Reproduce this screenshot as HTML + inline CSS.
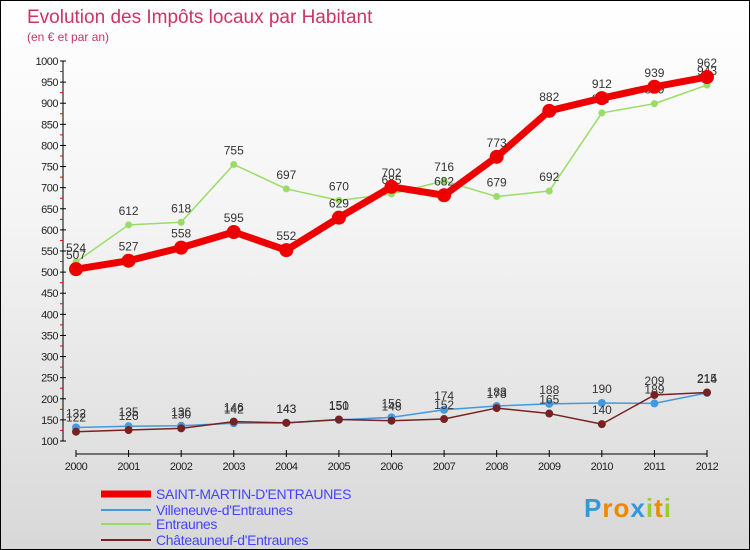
<!DOCTYPE html>
<html><head><meta charset="utf-8"><style>
body{margin:0;padding:0;}
#wrap{position:relative;width:748px;height:548px;border:1px solid #000;background:linear-gradient(#ffffff 0%,#f4f4f4 40%,#d8d8d8 100%);overflow:hidden;font-family:"Liberation Sans",sans-serif;}
svg{position:absolute;left:0;top:0;}
</style></head><body>
<div id="wrap">
<svg id="chart" width="750" height="550"></svg>
</div>
<script>
const years=[2000,2001,2002,2003,2004,2005,2006,2007,2008,2009,2010,2011,2012];
const mainVals=[507,527,558,595,552,629,702,682,773,882,912,939,962];
const entraunesVals=[524,612,618,755,697,670,685,716,679,692,877,899,943];
const villeneuveVals=[132,135,136,142,143,150,156,174,183,188,190,189,214];
const chateauVals=[122,126,130,146,143,151,148,152,178,165,140,209,215];
const yTicks=[100,150,200,250,300,350,400,450,500,550,600,650,700,750,800,850,900,950,1000];
const NS="http://www.w3.org/2000/svg";
const svg=document.getElementById('chart');
const X=i=>75+i*(706-75)/(years.length-1);
const Y=v=>440-(v-100)*(380/900);
function mk(t,a,p){const e=document.createElementNS(NS,t);for(const k in a)e.setAttribute(k,a[k]);(p||svg).appendChild(e);return e;}
// titles
let t=mk('text',{x:26,y:22,'font-size':19,fill:'#cc3366'});t.textContent='Evolution des Impôts locaux par Habitant';


t=mk('text',{x:26,y:40,'font-size':12,fill:'#cc3366'});t.textContent='(en € et par an)';


// y axis
let ax=mk('line',{x1:62,y1:60,x2:62,y2:440,stroke:'#000','stroke-width':1});


yTicks.forEach(v=>{
  mk('line',{x1:59,y1:Y(v),x2:65,y2:Y(v),stroke:'#000'});
  if(v<1000) mk('line',{x1:59,y1:Y(v+25),x2:62,y2:Y(v+25),stroke:'#e00'});
  const l=mk('text',{x:57,y:Y(v)+4,'font-size':11,'text-anchor':'end',fill:'#222','letter-spacing':'-0.5'});
  l.textContent=v;
  
  
});
// x axis
ax=mk('line',{x1:75,y1:453,x2:706,y2:453,stroke:'#000','stroke-width':1});


years.forEach((y,i)=>{
  mk('line',{x1:X(i),y1:449,x2:X(i),y2:456,stroke:'#000'});
  const l=mk('text',{x:X(i),y:469,'font-size':11,'text-anchor':'middle',fill:'#222','letter-spacing':'-0.5'});
  l.textContent=y;
  
  
});
function series(vals,color,w,r,name,dy){
  const g=mk('g',{});
  
  
  mk('polyline',{points:vals.map((v,i)=>X(i)+','+Y(v)).join(' '),fill:'none',stroke:color,'stroke-width':w,'stroke-linejoin':'round'},g);
  vals.forEach((v,i)=>{
    const c=mk('circle',{cx:X(i),cy:Y(v),r:r,fill:color},g);
    
    
    const l=mk('text',{x:X(i),y:Y(v)+dy,'font-size':12,'text-anchor':'middle',fill:'#333'},g);
    l.textContent=v;
    
    
  });
}
series(entraunesVals,'#99dd66',1.5,3.5,'entraunes-series',-10);
series(villeneuveVals,'#4499dd',1.5,4,'villeneuve-series',-10);
series(chateauVals,'#772222',1.5,4,'chateauneuf-series',-10);
series(mainVals,'#ee0000',7,7,'saint-martin-series',-10);
// legend
const leg=[['SAINT-MARTIN-D\'ENTRAUNES','#ee0000',7,493],['Villeneuve-d\'Entraunes','#4499dd',2,509],['Entraunes','#99dd66',2,523],['Châteauneuf-d\'Entraunes','#772222',2,539]];
leg.forEach(([n,c,w,y])=>{
  const g=mk('g',{});
  
  
  mk('line',{x1:100,y1:y,x2:150,y2:y,stroke:c,'stroke-width':w},g);
  const l=mk('text',{x:155,y:y+5,'font-size':14,fill:'#4444ff','letter-spacing':'-0.3'},g);
  l.textContent=n;
});
// logo
const lg=mk('text',{x:583,y:516,'font-size':26,'font-weight':'bold','letter-spacing':'1'});


[['P','#3399dd'],['r','#ee8800'],['o','#ee8800'],['x','#3399dd'],['i','#99cc33'],['t','#ee8800'],['i','#99cc33']].forEach(([ch,c])=>{const s=mk('tspan',{fill:c},lg);s.textContent=ch;});
</script>
</body></html>
